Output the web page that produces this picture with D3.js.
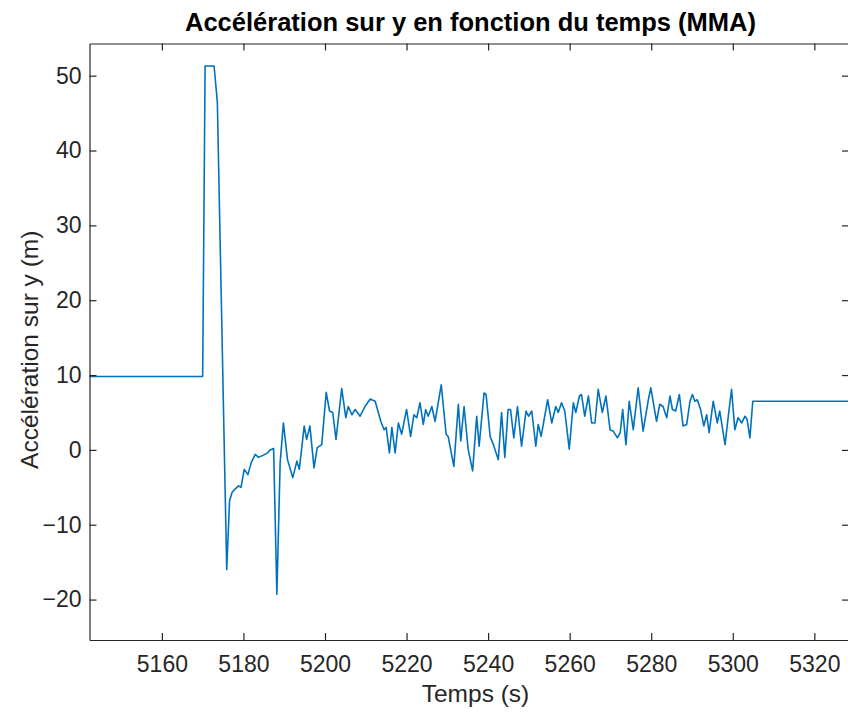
<!DOCTYPE html>
<html>
<head>
<meta charset="utf-8">
<script src="https://cdn.jsdelivr.net/npm/d3@7"></script>
<style>
  body { margin: 0; background: #fff; }
  svg { display: block; font-family: "Liberation Sans", Arial, sans-serif; }
</style>
</head>
<body>
<svg id="chart"></svg>
<script>
// time samples (s) and acceleration on y
const times = [5142, 5170.0, 5170.6, 5172.8, 5173.6, 5175.9,
  5176.6, 5177.2, 5178.0, 5178.8, 5179.4, 5180.2, 5181.1, 5181.9, 5182.9, 5183.7,
  5184.9, 5185.9, 5186.5, 5187.4, 5188.2, 5189.0, 5189.8, 5190.8, 5192.1, 5193.1,
  5193.7, 5194.9, 5195.5, 5196.3, 5197.3, 5198.1, 5199.2, 5200.3, 5201.1, 5201.9,
  5202.7, 5204.1, 5205.1, 5205.7, 5206.6, 5207.4, 5208.6, 5209.8, 5211.1, 5212.3,
  5213.7, 5214.5, 5215.0, 5215.8, 5216.4, 5217.2, 5218.0, 5218.8, 5220.0, 5221.0,
  5221.8, 5222.5, 5223.3, 5224.1, 5224.7, 5225.3, 5226.2, 5227.0, 5228.5, 5229.7,
  5230.2, 5231.6, 5232.7, 5233.3, 5234.1, 5235.1, 5236.2, 5237.2, 5237.8, 5239.0,
  5239.5, 5240.5, 5241.3, 5242.5, 5243.3, 5244.1, 5244.9, 5245.5, 5246.3, 5247.2,
  5248.2, 5249.3, 5249.9, 5250.7, 5251.7, 5252.3, 5253.0, 5254.6, 5255.6, 5256.6,
  5257.2, 5258.0, 5258.8, 5259.9, 5260.9, 5261.5, 5262.4, 5262.9, 5263.7, 5264.6,
  5265.4, 5266.2, 5267.0, 5268.0, 5268.9, 5269.9, 5270.7, 5271.7, 5272.4, 5273.0,
  5273.8, 5274.6, 5275.6, 5276.8, 5278.0, 5279.3, 5279.9, 5281.3, 5282.1, 5282.9,
  5283.8, 5284.6, 5285.2, 5286.0, 5286.9, 5287.8, 5288.7, 5289.5, 5290.1, 5290.7,
  5291.3, 5292.1, 5292.9, 5293.6, 5294.2, 5295.2, 5296.2, 5296.8, 5298.1, 5298.9,
  5299.7, 5300.5, 5301.3, 5302.2, 5303.0, 5303.5, 5304.2, 5304.9, 5330]
const accY = [9.8, 9.8, 51.3, 51.3, 46.5, -16.0,
  -6.8, -5.7, -5.2, -4.8, -5.0, -2.6, -3.3, -1.7, -0.6, -1.0,
  -0.7, -0.4, 0.0, 0.2, -19.3, -1.7, 3.6, -1.3, -3.7, -1.5,
  -2.6, 3.2, 1.4, 3.2, -2.4, 0.3, 0.7, 7.7, 5.2, 5.0,
  1.4, 8.2, 4.3, 5.8, 4.7, 5.4, 4.5, 5.8, 6.8, 6.5,
  3.8, 2.7, 3.0, -0.4, 3.0, -0.4, 3.6, 2.1, 5.4, 1.8,
  4.7, 4.3, 6.3, 3.4, 5.4, 4.5, 5.8, 3.8, 8.7, 2.1,
  1.8, -2.2, 6.1, 1.2, 5.8, 0.1, -2.8, 4.5, 0.5, 7.6,
  7.4, 1.8, 0.7, -1.3, 5.0, -1.0, 5.4, 5.4, 1.6, 5.8,
  0.5, 5.2, 4.5, 5.2, 0.5, 3.4, 1.8, 6.7, 3.6, 5.8,
  5.0, 6.3, 5.2, 0.1, 6.3, 5.0, 7.2, 7.4, 4.5, 7.2,
  3.6, 3.6, 8.1, 5.0, 7.2, 2.7, 2.5, 1.6, 2.3, 5.4,
  0.7, 6.5, 2.7, 8.3, 2.5, 6.7, 8.3, 3.8, 6.1, 5.8,
  4.3, 7.2, 5.4, 5.2, 7.4, 3.2, 3.4, 6.5, 7.4, 6.5,
  6.7, 5.4, 3.2, 4.7, 2.3, 6.5, 3.6, 5.2, 0.7, 4.5,
  8.1, 2.7, 4.3, 3.6, 4.5, 4.1, 1.6, 6.5, 6.5]

const xTicks = [5160, 5180, 5200, 5220, 5240, 5260, 5280, 5300, 5320]
const yTicks = [-20, -10, 0, 10, 20, 30, 40, 50]
const xRange = [5142.25, 5328.5]
const yRange = [-25.4, 54.3]

const titleText = "Accélération sur y en fonction du temps (MMA)"
const xLabel = "Temps (s)"
const yLabel = "Accélération sur y (m)"

const W = 848, H = 713
const margin = {top: 43.5, right: -1, bottom: 73, left: 89.5}
const width = W - margin.left - margin.right,
  height = H - margin.top - margin.bottom

const svg = d3.select("#chart").attr("width", W).attr("height", H)
const g = svg.append("g")
  .attr("transform", "translate(" + margin.left + "," + margin.top + ")")

const x = d3.scaleLinear().domain(xRange).range([0, width])
const y = d3.scaleLinear().domain(yRange).range([height, 0])

const axisColor = "#262626"
const fs = 23

g.append("clipPath").attr("id", "clip")
  .append("rect").attr("width", width).attr("height", height)

// the line
const pts = times.map((t, i) => [t, accY[i]])
g.append("path")
  .datum(pts)
  .attr("clip-path", "url(#clip)")
  .attr("fill", "none")
  .attr("stroke", "#0072BD")
  .attr("stroke-width", 1.6)
  .attr("stroke-linejoin", "round")
  .attr("d", d3.line().x(d => x(d[0])).y(d => y(d[1])))

// axes, MATLAB style: ticks inward on every side
const styleAxis = sel => {
  sel.select(".domain").attr("stroke", axisColor).attr("stroke-width", 1.2)
  sel.selectAll(".tick line").attr("stroke", axisColor).attr("stroke-width", 1.2)
  sel.selectAll(".tick text").attr("fill", axisColor)
    .attr("font-size", fs).attr("font-family", "Liberation Sans, Arial, sans-serif")
}

g.append("g")
  .attr("transform", "translate(0," + height + ")")
  .call(d3.axisBottom(x).tickValues(xTicks).tickFormat(d3.format("d"))
    .tickSizeInner(-7).tickSizeOuter(0).tickPadding(16))
  .call(styleAxis)

g.append("g")
  .call(d3.axisTop(x).tickValues(xTicks).tickFormat("")
    .tickSizeInner(-7).tickSizeOuter(0))
  .call(styleAxis)

g.append("g")
  .call(d3.axisLeft(y).tickValues(yTicks).tickFormat(d3.format("d"))
    .tickSizeInner(-7).tickSizeOuter(0).tickPadding(8))
  .call(styleAxis)

g.append("g")
  .attr("transform", "translate(" + width + ",0)")
  .call(d3.axisRight(y).tickValues(yTicks).tickFormat("")
    .tickSizeInner(-7).tickSizeOuter(0))
  .call(styleAxis)

// title and labels
svg.append("text")
  .attr("x", margin.left + 381).attr("y", 31)
  .attr("text-anchor", "middle")
  .attr("font-size", 25.5).attr("font-weight", "bold")
  .attr("fill", "#000")
  .text(titleText)

svg.append("text")
  .attr("x", margin.left + 386).attr("y", 702)
  .attr("text-anchor", "middle")
  .attr("font-size", 24.5)
  .attr("fill", axisColor)
  .text(xLabel)

svg.append("text")
  .attr("transform", "translate(38," + (margin.top + height / 2 + 8) + ") rotate(-90)")
  .attr("text-anchor", "middle")
  .attr("font-size", 24.5)
  .attr("fill", axisColor)
  .text(yLabel)
</script>
</body>
</html>
